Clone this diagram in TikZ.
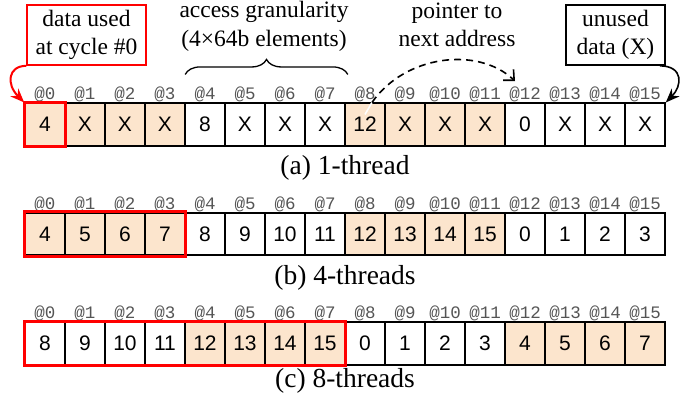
\documentclass[tikz,border=0pt]{standalone}
\usepackage{fontspec}
\setmainfont{Liberation Serif}
\setsansfont{Liberation Sans}
\setmonofont{Liberation Mono}
\usetikzlibrary{arrows.meta,decorations.pathreplacing}
\definecolor{peach}{RGB}{252,229,205}
\definecolor{lblgray}{RGB}{85,85,85}
\newcommand\cellrow[4]{%
  \foreach \v [count=\n from 0] in {#4} {
    \pgfmathtruncatemacro\g{mod(floor(\n/4),2)}
    \ifnum\g=#3
      \node[hot] (#1-\n) at ({45+40*\n},#2) {\v};
    \else
      \node[cell] (#1-\n) at ({45+40*\n},#2) {\v};
    \fi
    \node[addr] (#1-a\n) at ([yshift=2.5pt]#1-\n.north) {@\n};
  }}
\begin{document}
\begin{tikzpicture}[x=1pt,y=-1pt,
  cell/.style={draw=black, line width=1.6pt, minimum width=40pt, minimum height=42.5pt,
    inner sep=0pt, font=\sffamily\fontsize{21}{21}\selectfont},
  hot/.style={cell, fill=peach},
  addr/.style={font=\ttfamily\fontsize{17.5}{17.5}\selectfont, text=lblgray, anchor=base, inner sep=0pt},
  caption/.style={font=\fontsize{27.5}{30}\selectfont, anchor=base, inner sep=0pt},
  note/.style={font=\fontsize{23.5}{28.5}\selectfont, align=center, inner sep=0pt},
  sel/.style={draw=red, line width=3pt},
]
\useasboundingbox (0,0) rectangle (699,405);

% rows
\cellrow{a}{124.5}{0}{4,X,X,X,8,X,X,X,12,X,X,X,0,X,X,X}
\cellrow{b}{234}{0}{4,5,6,7,8,9,10,11,12,13,14,15,0,1,2,3}
\cellrow{c}{343.5}{1}{8,9,10,11,12,13,14,15,0,1,2,3,4,5,6,7}

% selections
\draw[sel] (a-0.north west) rectangle (a-0.south east);
\draw[sel] (b-0.north west) rectangle (b-3.south east);
\draw[sel] (c-0.north west) rectangle (c-7.south east);

% captions
\node[caption] (capa) at (345,174) {(a) 1-thread};
\node[caption] (capb) at (345,284) {(b) 4-threads};
\node[caption] (capc) at (345,387) {(c) 8-threads};

% annotation boxes
\node[note, draw=red, line width=1.6pt, minimum width=119pt, minimum height=60pt] (used) at (86.5,35) {data used\\at cycle \#0};
\node[note, draw=black, line width=1.6pt, minimum width=99pt, minimum height=60pt] (unused) at (615.5,35) {unused\\data (X)};
\node[note] (gran) at (264,26.5) {access granularity\\(4\texttimes64b elements)};
\node[note] (ptr) at (457,25) {pointer to\\next address};

% brace
\draw[decorate, decoration={brace, amplitude=15pt}, line width=1.3pt]
  ([xshift=1pt,yshift=28pt]a-4.north west) -- ([xshift=2pt,yshift=28pt]a-7.north east);

% red arrow
\draw[red, line width=2pt, -{Stealth[length=14pt,width=11pt]}]
  (used.south west) .. controls (8,66) and (6,84) .. (a-0.north west);

% black arrow
\draw[black, line width=1.6pt, -{Stealth[length=14pt,width=11pt]}]
  ([xshift=-6pt]unused.south east) .. controls (684,66) and (682,86) .. (a-15.north east);

% dashed pointer arrow
\coordinate (pstart) at ([xshift=7pt]a-8.north);
\draw[white, line width=1.6pt] ([yshift=-12pt]a-8.north) -- (pstart);
\draw[black, line width=1.6pt, dash pattern=on 7pt off 5pt, -{Straight Barb[length=8pt,width=15pt]}]
  (pstart) .. controls (405,55) and (478,46) .. ([xshift=-10pt,yshift=6pt]a-a12.north);
\end{tikzpicture}
\end{document}
